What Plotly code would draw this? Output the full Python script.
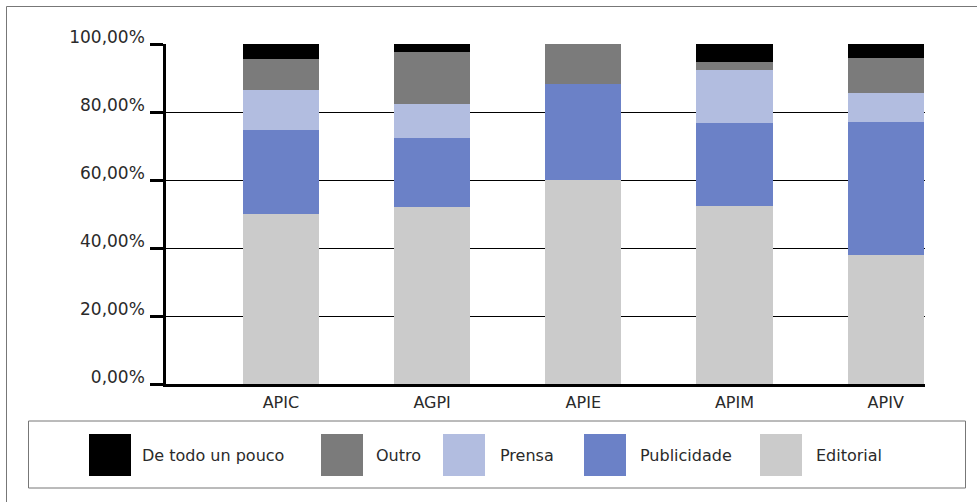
import plotly.graph_objects as go

categories = ["APIC", "AGPI", "APIE", "APIM", "APIV"]
editorial = [50.0, 52.1, 60.0, 52.4, 37.9]
publicidade = [24.7, 20.3, 28.1, 24.4, 39.2]
prensa = [11.8, 10.0, 0.0, 15.6, 8.5]
outro = [9.1, 15.3, 11.9, 2.3, 10.3]
de_todo = [4.4, 2.3, 0.0, 5.3, 4.1]
series_names = ["De todo un pouco", "Outro", "Prensa", "Publicidade", "Editorial"]
y_tickvals = [0, 20, 40, 60, 80, 100]
y_ticktext = ["0,00%", "20,00%", "40,00%", "60,00%", "80,00%", "100,00%"]

colors = {
    "Editorial": "#cbcbcb",
    "Publicidade": "#6b81c7",
    "Prensa": "#b2bde0",
    "Outro": "#7b7b7b",
    "De todo un pouco": "#000000",
}

W, H = 977, 502
L, R, T, B = 166, 52, 44, 118
PW = W - L - R
PH = H - T - B
FONT = "DejaVu Sans"
TXT = "#2a2a2a"


def px(x):
    return (x - L) / PW


def py(y):
    return (H - B - y) / PH


fig = go.Figure()
stack = [("Editorial", editorial), ("Publicidade", publicidade), ("Prensa", prensa),
         ("Outro", outro), ("De todo un pouco", de_todo)]
for name, vals in stack:
    fig.add_trace(go.Bar(
        x=categories, y=vals, name=name,
        marker=dict(color=colors[name], line=dict(width=0)),
        showlegend=False,
    ))

shapes = []
annotations = []
# outer frame
shapes.append(dict(type="rect", xref="paper", yref="paper",
                   x0=px(6.5), x1=px(1000), y0=py(530), y1=py(6.5),
                   line=dict(color="#777777", width=1), fillcolor="rgba(0,0,0,0)", layer="below"))
# legend box
shapes.append(dict(type="rect", xref="paper", yref="paper",
                   x0=px(28.5), x1=px(965.5), y0=py(488), y1=py(421),
                   line=dict(color="#777777", width=1), fillcolor="rgba(0,0,0,0)"))
# legend entries
sq_x = [89, 321, 443, 584, 760]
txt_x = [140, 374, 498, 638, 814]
for name, sx, tx in zip(series_names, sq_x, txt_x):
    shapes.append(dict(type="rect", xref="paper", yref="paper",
                       x0=px(sx), x1=px(sx + 42), y0=py(476), y1=py(434),
                       line=dict(width=0), fillcolor=colors[name]))
    annotations.append(dict(xref="paper", yref="paper", x=px(tx), y=py(456),
                            xanchor="left", yanchor="middle", showarrow=False,
                            text=name, font=dict(family=FONT, size=16, color=TXT)))
fig.update_layout(
    width=W, height=H,
    margin=dict(l=L, r=R, t=T, b=B, pad=0),
    paper_bgcolor="white", plot_bgcolor="white",
    barmode="stack", bargap=0.497,
    shapes=shapes, annotations=annotations,
    showlegend=False,
)
fig.update_xaxes(
    range=[-0.76, 4.26], showgrid=False, zeroline=False,
    showline=True, linecolor="black", linewidth=2.5,
    ticks="", tickfont=dict(family=FONT, size=16, color=TXT), ticklabelstandoff=2,
)
fig.update_yaxes(
    range=[0, 100], tickvals=y_tickvals, ticktext=y_ticktext,
    showgrid=True, gridcolor="black", gridwidth=1, zeroline=False,
    showline=True, linecolor="black", linewidth=2.5,
    ticks="outside", ticklen=13, tickwidth=2.5, tickcolor="black",
    tickfont=dict(family=FONT, size=17, color=TXT), ticklabelshift=-7,
    ticklabelstandoff=2,
)
fig.write_html("out.html", config={"displayModeBar": False},
               post_script="document.body.style.margin='0px';")
